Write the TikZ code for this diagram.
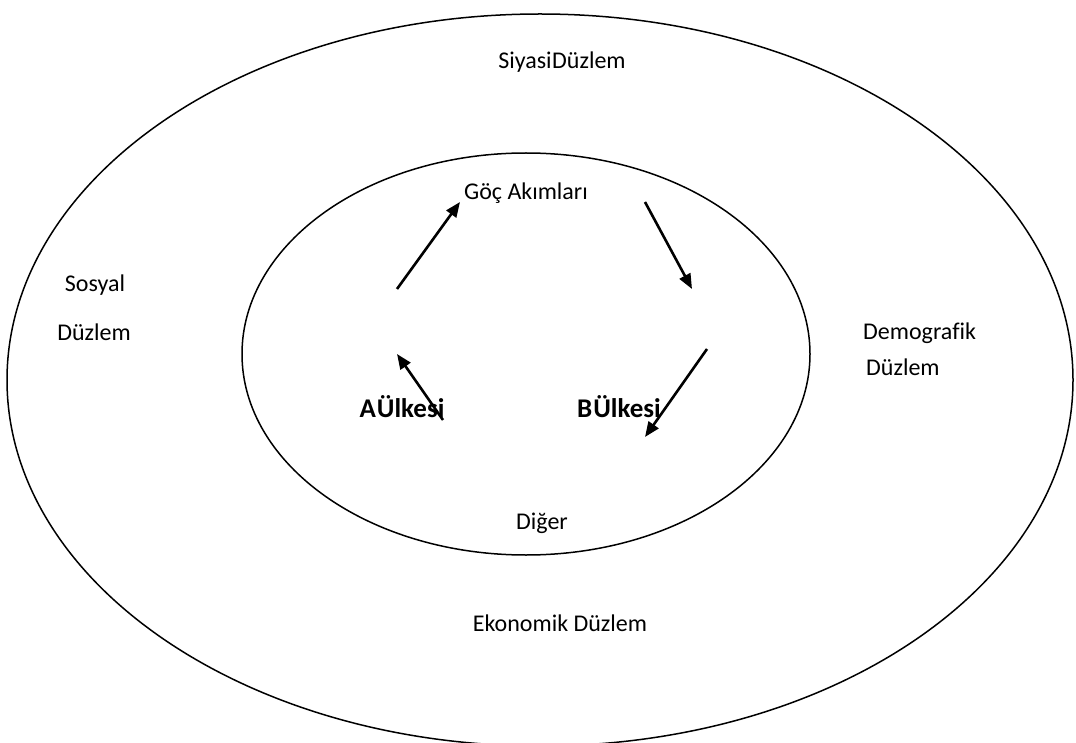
\documentclass[tikz,border=0pt]{standalone}
\usepackage{fontspec}
\setmainfont{Carlito}[Ligatures=NoCommon]
\usetikzlibrary{arrows.meta}
\begin{document}
\begin{tikzpicture}[x=1pt,y=-1pt,
  ring/.style={draw=black,line width=1.5pt},
  lbl/.style={font=\fontsize{24}{29}\selectfont,inner sep=0pt},
  country/.style={font=\fontsize{27}{32}\selectfont\bfseries,inner sep=0pt},
  flow/.style={line width=2.6pt,-{Triangle[length=15pt,width=12pt]}}]
\useasboundingbox (0,0) rectangle (1076,743);
\fill[white] (0,0) rectangle (1076,743);
\draw[ring] (540,380) ellipse [x radius=533,y radius=366];
\draw[ring] (526,354) ellipse [x radius=284,y radius=201];
\node[lbl] (siyasi) at (562,62) {Siyasi\hspace{0.5pt}Düzlem};
\node[lbl] (goc) at (526,193) {Göç Akımları};
\node[lbl] (sosyal) at (95,285) {Sosyal};
\node[lbl] (sosyal2) at (94,332) {Düzlem};
\node[lbl,anchor=west] (demo) at (863,333) {Demografik};
\node[lbl,anchor=west] (demo2) at (866,367) {Düzlem};
\node[country] (a) at (402,407) {A\hspace{1pt}Ülkesi};
\node[country] (b) at (619,407) {B\hspace{1pt}Ülkesi};
\node[lbl] (diger) at (542,523) {Diğer};
\node[lbl] (eko) at (560,623) {Ekonomik Düzlem};
\coordinate (a1s) at (397,289);
\coordinate (a1e) at (460,202);
\coordinate (a2s) at (645,202);
\coordinate (a2e) at (692,289);
\coordinate (a3s) at (707,349);
\coordinate (a3e) at (645,437);
\coordinate (a4s) at (443,420);
\coordinate (a4e) at (397,354);
\draw[flow] (a1s) -- (a1e);
\draw[flow] (a2s) -- (a2e);
\draw[flow] (a3s) -- (a3e);
\draw[flow] (a4s) -- (a4e);
\end{tikzpicture}
\end{document}
